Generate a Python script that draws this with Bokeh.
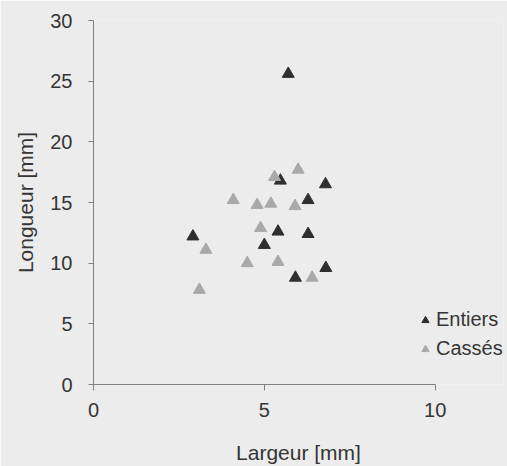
from bokeh.plotting import figure
from bokeh.models import Legend, LegendItem, Range1d, FixedTicker
from bokeh.embed import file_html
from bokeh.resources import INLINE

# Data
entiers_x = [5.70, 5.47, 6.79, 6.28, 2.91, 5.40, 6.28, 5.00, 5.91, 6.80]
entiers_y = [25.6, 16.8, 16.5, 15.2, 12.2, 12.6, 12.4, 11.5, 8.8, 9.6]
casses_x = [5.30, 5.99, 4.09, 4.79, 5.19, 5.90, 4.89, 3.29, 4.50, 5.40, 6.40, 3.10]
casses_y = [17.1, 17.7, 15.2, 14.8, 14.9, 14.7, 12.9, 11.1, 10.0, 10.1, 8.8, 7.8]
x_ticks = [0, 5, 10]
y_ticks = [0, 5, 10, 15, 20, 25, 30]

BG = "#ececec"
FONT = "Liberation Sans"
TXT = "#353535"
AX = "#808080"

p = figure(width=507, height=466, output_backend="svg", toolbar_location=None,
           x_range=Range1d(0, 12), y_range=Range1d(0, 30),
           frame_width=410, frame_height=364,
           min_border_left=93, min_border_top=20, min_border_right=4, min_border_bottom=82,
           background_fill_color=BG, border_fill_color=BG, outline_line_color=None)

p.xgrid.visible = False
p.ygrid.visible = False

for ax in (p.xaxis[0], p.yaxis[0]):
    ax.axis_line_color = AX
    ax.major_tick_line_color = AX
    ax.minor_tick_line_color = None
    ax.major_tick_in = 0
    ax.major_label_text_font = FONT
    ax.major_label_text_font_size = "20px"
    ax.major_label_text_color = TXT
    ax.axis_label_text_font = FONT
    ax.axis_label_text_font_size = "21px"
    ax.axis_label_text_font_style = "normal"
    ax.axis_label_text_color = TXT

p.xaxis[0].major_tick_out = 6
p.yaxis[0].major_tick_out = 5
p.xaxis[0].bounds = (0, 10)
p.yaxis[0].bounds = (0, 30)
p.xaxis[0].ticker = FixedTicker(ticks=x_ticks)
p.yaxis[0].ticker = FixedTicker(ticks=y_ticks)
p.xaxis[0].axis_label = "Largeur [mm]"
p.yaxis[0].axis_label = "Longueur [mm]"
p.xaxis[0].major_label_standoff = 12
p.yaxis[0].major_label_standoff = 16
p.xaxis[0].axis_label_standoff = 21
p.yaxis[0].axis_label_standoff = 10

r1 = p.scatter(entiers_x, entiers_y, marker="triangle", size=12,
               fill_color="#2f2f2f", line_color="#2f2f2f")
r2 = p.scatter(casses_x, casses_y, marker="triangle", size=12,
               fill_color="#a9a9a9", line_color="#a9a9a9")

legend = Legend(items=[LegendItem(label="Entiers", renderers=[r1]),
                       LegendItem(label="Cassés", renderers=[r2])],
                location=(323, 24), padding=0, margin=0, spacing=6,
                glyph_width=18, glyph_height=18, label_height=20,
                label_standoff=2, background_fill_alpha=0, border_line_color=None,
                label_text_font=FONT, label_text_font_size="20px", label_text_color=TXT)
p.add_layout(legend, "center")

open("out.html", "w").write(file_html(p, INLINE))
